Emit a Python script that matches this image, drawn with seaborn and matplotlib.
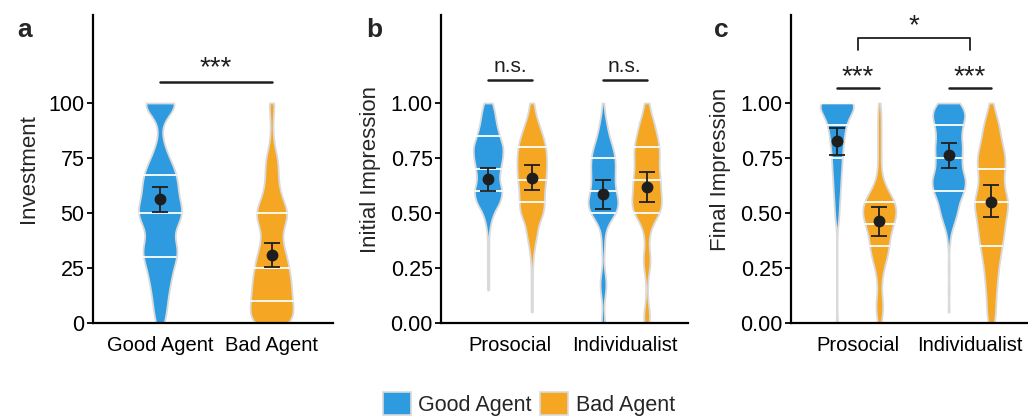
import numpy as np
import pandas as pd
import matplotlib
import matplotlib.pyplot as plt
from matplotlib.patches import Patch
import seaborn as sns

sns.set_style('white')
plt.rcParams['font.family'] = ['Liberation Sans', 'DejaVu Sans']

# ── data ─────────────────────────────────────────────────────
agents = ['Good Agent', 'Bad Agent']
types = ['Prosocial', 'Individualist']

# investment responses: value grid and how many participants gave each value
invest_grid = [0, 5, 10, 15, 20, 25, 30, 35, 40, 45, 50, 55, 60, 65, 70, 75, 80, 85, 90, 95, 100]
invest_good = [4, 5, 6, 7, 9, 10, 14, 15, 8, 14, 20, 15, 14, 14, 12, 7, 4, 1, 1, 5, 22]
invest_bad = [17, 17, 16, 15, 15, 13, 12, 9, 7, 10, 14, 9, 6, 5, 5, 5, 2, 1, 1, 1, 3]

# impression ratings grid (0..1 in steps of .05)
imp_grid = [0.00, 0.05, 0.10, 0.15, 0.20, 0.25, 0.30, 0.35, 0.40, 0.45, 0.50,
            0.55, 0.60, 0.65, 0.70, 0.75, 0.80, 0.85, 0.90, 0.95, 1.00]
init_pro_good = [0, 0, 0, 1, 1, 1, 1, 1, 1, 3, 7, 16, 19, 14, 16, 19, 20, 15, 11, 9, 6]
init_pro_bad = [0, 1, 1, 1, 1, 1, 2, 4, 7, 9, 16, 17, 17, 19, 20, 20, 19, 15, 10, 5, 3]
init_ind_good = [3, 1, 1, 4, 4, 1, 1, 2, 2, 5, 17, 20, 15, 14, 15, 15, 12, 7, 5, 2, 1]
init_ind_bad = [4, 4, 1, 1, 1, 4, 5, 2, 3, 6, 17, 19, 16, 17, 14, 15, 16, 12, 10, 5, 3]

final_pro_good = [1, 0, 0, 0, 0, 0, 0, 0, 0, 1, 2, 2, 3, 3, 4, 4, 5, 6, 7, 10, 20]
final_pro_bad = [2, 4, 4, 2, 3, 5, 9, 11, 12, 16, 20, 18, 10, 4, 2, 2, 2, 2, 2, 2, 1]
final_ind_good = [0, 1, 0, 1, 0, 1, 0, 1, 2, 6, 10, 12, 18, 20, 15, 15, 16, 14, 16, 20, 14]
final_ind_bad = [4, 5, 5, 6, 7, 8, 10, 12, 14, 15, 17, 20, 15, 13, 15, 16, 13, 10, 9, 5, 2]

# means and standard-error limits of the black points
invest_mean = [56.3, 30.8]
invest_lo = [50.5, 25.5]
invest_hi = [62.0, 36.5]

init_mean = [[0.655, 0.660], [0.585, 0.617]]   # [type][agent]
init_lo = [[0.600, 0.605], [0.520, 0.550]]
init_hi = [[0.705, 0.720], [0.650, 0.685]]

final_mean = [[0.825, 0.462], [0.763, 0.552]]
final_lo = [[0.765, 0.395], [0.705, 0.480]]
final_hi = [[0.885, 0.528], [0.820, 0.625]]

# ── build long tables ────────────────────────────────────────
df_a = pd.DataFrame({
    'agent': np.repeat(agents, [sum(invest_good), sum(invest_bad)]),
    'value': np.concatenate([np.repeat(invest_grid, invest_good),
                             np.repeat(invest_grid, invest_bad)]),
})


def long_table(counts):
    rows = []
    for (t, a), c in counts.items():
        for v in np.repeat(imp_grid, c):
            rows.append((t, a, v))
    return pd.DataFrame(rows, columns=['type', 'agent', 'value'])


df_b = long_table({('Prosocial', 'Good Agent'): init_pro_good,
                   ('Prosocial', 'Bad Agent'): init_pro_bad,
                   ('Individualist', 'Good Agent'): init_ind_good,
                   ('Individualist', 'Bad Agent'): init_ind_bad})
df_c = long_table({('Prosocial', 'Good Agent'): final_pro_good,
                   ('Prosocial', 'Bad Agent'): final_pro_bad,
                   ('Individualist', 'Good Agent'): final_ind_good,
                   ('Individualist', 'Bad Agent'): final_ind_bad})

# ── styling ──────────────────────────────────────────────────
blue = '#2E9BE0'
orange = '#F5A623'
palette = {'Good Agent': blue, 'Bad Agent': orange}
edge = '#DADADA'
dark = '#1E1E1E'
W, H = 1028, 419

fig = plt.figure(figsize=(W / 100, H / 100), dpi=100)


def px_axes(x0, x1, y0=15, y1=323):
    return fig.add_axes([x0 / W, 1 - y1 / H, (x1 - x0) / W, (y1 - y0) / H])


ax_a = px_axes(93, 333)
ax_b = px_axes(441, 688)
ax_c = px_axes(791, 1028)

violin_kws = dict(cut=0, density_norm='width', bw_adjust=0.5, inner='quart',
                  inner_kws=dict(color='white', linestyle='-', dashes=(None, None), linewidth=1.3),
                  linecolor=edge, linewidth=1.3, saturation=1, legend=False)

sns.violinplot(data=df_a, x='agent', y='value', hue='agent', order=agents,
               hue_order=agents, palette=palette, width=0.385, ax=ax_a, **violin_kws)
sns.violinplot(data=df_b, x='type', y='value', hue='agent', order=types,
               hue_order=agents, palette=palette, width=0.76, gap=0.32, ax=ax_b, **violin_kws)
sns.violinplot(data=df_c, x='type', y='value', hue='agent', order=types,
               hue_order=agents, palette=palette, width=0.76, gap=0.22, ax=ax_c, **violin_kws)

eb_kws = dict(fmt='o', color=dark, ms=7.5, capsize=6, elinewidth=1.3, capthick=1.3, zorder=5)

# panel a means
xa = np.arange(len(agents))
ax_a.errorbar(xa, invest_mean,
              yerr=[np.subtract(invest_mean, invest_lo), np.subtract(invest_hi, invest_mean)], **eb_kws)

# panel b / c means (dodged)
offs = [-0.19, 0.19]
for ax, mean, lo, hi in [(ax_b, init_mean, init_lo, init_hi), (ax_c, final_mean, final_lo, final_hi)]:
    for ti in range(len(types)):
        for ai in range(len(agents)):
            m = mean[ti][ai]
            ax.errorbar(ti + offs[ai], m, yerr=[[m - lo[ti][ai]], [hi[ti][ai] - m]], **eb_kws)

# ── axes cosmetics ───────────────────────────────────────────
for ax, top, ticks, labels, ylab in [
        (ax_a, 140, [0, 25, 50, 75, 100], ['0', '25', '50', '75', '100'], 'Investment'),
        (ax_b, 1.4, [0, .25, .5, .75, 1], ['0.00', '0.25', '0.50', '0.75', '1.00'], 'Initial Impression'),
        (ax_c, 1.4, [0, .25, .5, .75, 1], ['0.00', '0.25', '0.50', '0.75', '1.00'], 'Final Impression')]:
    ax.set_ylim(0, top)
    ax.set_xlim(-0.6, 1.55 if ax is not ax_c else 1.52)
    ax.set_yticks(ticks)
    ax.set_yticklabels(labels)
    ax.set_xlabel('')
    ax.set_ylabel(ylab, fontsize=16, labelpad=7)
    sns.despine(ax=ax)
    for s in ['left', 'bottom']:
        ax.spines[s].set_linewidth(1.6)
        ax.spines[s].set_color('black')
    ax.tick_params(axis='y', length=4, width=1.3, labelsize=15.5, color='black',
                   left=True, labelcolor='black', pad=2)
    ax.tick_params(axis='x', bottom=False, labelsize=14.5, labelcolor='black', pad=6)

# significance marks
sig_kws = dict(ha='center', va='center', fontsize=20, color=dark)
ax_a.plot([0, 1], [109.5, 109.5], color=dark, lw=1.8)
ax_a.text(0.5, 116, '***', **sig_kws)

for ti in range(len(types)):
    ax_b.plot([ti + offs[0], ti + offs[1]], [1.105, 1.105], color=dark, lw=1.8)
    ax_b.text(ti, 1.165, 'n.s.', ha='center', va='center', fontsize=15, color=dark)
    ax_c.plot([ti + offs[0], ti + offs[1]], [1.068, 1.068], color=dark, lw=1.8)
    ax_c.text(ti, 1.115, '***', **sig_kws)

ax_c.plot([0, 0, 1, 1], [1.241, 1.295, 1.295, 1.241], color=dark, lw=1.3)
ax_c.text(0.5, 1.35, '*', **sig_kws)

# panel letters
for xp, letter in [(17, 'a'), (366, 'b'), (714, 'c')]:
    fig.text(xp / W, 1 - 30 / H, letter, fontsize=19, fontweight='bold', va='center', ha='left')

# legend
handles = [Patch(facecolor=palette[a], edgecolor=edge, linewidth=1.2, label=a) for a in agents]
fig.legend(handles=handles, loc='center', bbox_to_anchor=(529 / W, 1 - 404 / H), ncol=2,
           frameon=False, fontsize=15.5, handlelength=1.3, handleheight=1.3,
           handletextpad=0.35, columnspacing=0.4)

plt.savefig('out.png', dpi=100)
plt.close()
